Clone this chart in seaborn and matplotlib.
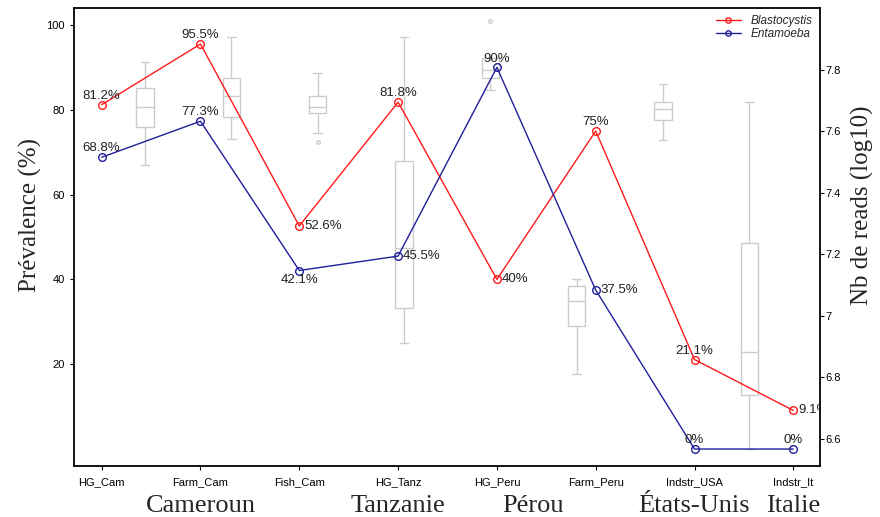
import numpy as np
import pandas as pd
import matplotlib
matplotlib.use("Agg")
import matplotlib.pyplot as plt
import seaborn as sns

# sample groups (x axis)
groups = ["HG_Cam", "Farm_Cam", "Fish_Cam", "HG_Tanz", "HG_Peru", "Farm_Peru", "Indstr_USA", "Indstr_It"]

# prevalence (%)
blastocystis = [81.2, 95.5, 52.6, 81.8, 40.0, 75.0, 21.1, 9.1]
entamoeba = [68.8, 77.3, 42.1, 45.5, 90.0, 37.5, 0.0, 0.0]

# where each value label sits relative to its point
blasto_lbl = ["above", "above", "right", "above", "right", "above", "above", "right"]
entam_lbl = ["above", "above", "below", "right", "above", "right", "above", "above"]

# number of reads (log10) per group, estimated from the boxes
reads_HG_Cam = [7.49, 7.56, 7.613, 7.65, 7.679, 7.71, 7.741, 7.78, 7.823]
reads_Farm_Cam = [7.574, 7.61, 7.646, 7.68, 7.715, 7.74, 7.774, 7.84, 7.905]
reads_Fish_Cam = [7.563, 7.593, 7.659, 7.67, 7.679, 7.70, 7.715, 7.75, 7.79]
reads_HG_Tanz = [6.91, 6.97, 7.026, 7.12, 7.22, 7.36, 7.502, 7.70, 7.905]
reads_HG_Peru = [7.734, 7.755, 7.774, 7.787, 7.80, 7.82, 7.836, 7.836, 7.957]
reads_Farm_Peru = [6.81, 6.89, 6.967, 7.01, 7.049, 7.07, 7.095, 7.105, 7.118]
reads_Indstr_USA = [7.571, 7.60, 7.636, 7.655, 7.672, 7.685, 7.695, 7.725, 7.754]
reads_Indstr_It = [6.567, 6.65, 6.741, 6.81, 6.88, 7.06, 7.236, 7.46, 7.695]

countries = ["Cameroun", "Tanzanie", "Pérou", "États-Unis", "Italie"]
country_pos = [1, 3, 4.37, 6, 7]

reads = [reads_HG_Cam, reads_Farm_Cam, reads_Fish_Cam, reads_HG_Tanz,
         reads_HG_Peru, reads_Farm_Peru, reads_Indstr_USA, reads_Indstr_It]
box_df = pd.DataFrame({
    "group": np.repeat(groups, [len(r) for r in reads]),
    "reads": np.concatenate(reads),
})

sns.set_style("white")
plt.rcParams["font.family"] = ["Liberation Sans", "DejaVu Sans"]

fig = plt.figure(figsize=(8.8, 5.17), dpi=100)
rect = [74 / 880, 51 / 517, 746 / 880, 458 / 517]

# boxplot layer (right axis), drawn underneath
axb = fig.add_axes(rect)
sns.boxplot(data=box_df, x="group", y="reads", order=groups, ax=axb,
            width=0.2, color="white", linecolor="#cccccc", linewidth=1,
            fliersize=2.5, flierprops=dict(marker="o", markerfacecolor="none",
                                           markeredgecolor="#cccccc"))
axb.set_xlim(-0.823, 7.82)
axb.set_ylim(6.511, 8.0)
axb.set_xticks([])
axb.set_xlabel("")
axb.set_ylabel("")
axb.yaxis.tick_right()
axb.set_yticks([6.6, 6.8, 7.0, 7.2, 7.4, 7.6, 7.8])
axb.yaxis.set_major_formatter(matplotlib.ticker.FormatStrFormatter("%g"))
axb.tick_params(axis="y", direction="out", length=3, width=0.8, labelsize=8, pad=1,
                right=True, left=False, colors="black")
for s in axb.spines.values():
    s.set_visible(False)

# prevalence layer (left axis)
ax = fig.add_axes(rect)
ax.patch.set_alpha(0)
series = [("Blastocystis", blastocystis, "#ff1a1a", blasto_lbl),
          ("Entamoeba", entamoeba, "#1f1f99", entam_lbl)]
for name, vals, col, where in series:
    sns.lineplot(x=groups, y=vals, ax=ax, color=col, linewidth=1, sort=False,
                 marker="o", markersize=5.5, markerfacecolor="none",
                 markeredgecolor=col, markeredgewidth=1, label=name)
    for i, v in enumerate(vals):
        if where[i] == "above":
            off, ha, va = (0, 2), "center", "bottom"
        elif where[i] == "right":
            off, ha, va = (3.5, 0), "left", "center"
        else:
            off, ha, va = (0, -2.5), "center", "top"
        t = ax.annotate(f"{v:g}%", (i, v), xytext=off, textcoords="offset points",
                        ha=ha, va=va, fontsize=9.5, color="#222222")
        t.set_clip_path(ax.patch)

ax.set_xlim(-0.28, 7.27)
ax.set_ylim(-4, 104)
ax.set_yticks([20, 40, 60, 80, 100])
ax.set_xlabel("")
ax.set_ylabel("")
ax.tick_params(axis="both", direction="out", length=3, width=0.8, labelsize=8,
               left=True, bottom=True, colors="black")
ax.tick_params(axis="x", pad=5)
for s in ax.spines.values():
    s.set_visible(True)
    s.set_color("black")
    s.set_linewidth(1.3)

leg = ax.legend(loc="upper right", frameon=False, handlelength=2.2, markerscale=0.7,
                borderaxespad=0.2, labelspacing=0.1, prop={"style": "italic", "size": 8.5})

# country labels under the group names
for c, p in zip(countries, country_pos):
    ax.text(p, -0.1, c, transform=ax.get_xaxis_transform(), ha="center", va="baseline",
            fontsize=19, family="Liberation Serif")

fig.text(30 / 880, 1 - 215 / 517, "Prévalence (%)", rotation=90, ha="center", va="center",
         fontsize=18, family="Liberation Serif")
fig.text(862 / 880, 1 - 205 / 517, "Nb de reads (log10)", rotation=90, ha="center",
         va="center", fontsize=18, family="Liberation Serif")

fig.savefig("out.png", dpi=100)
